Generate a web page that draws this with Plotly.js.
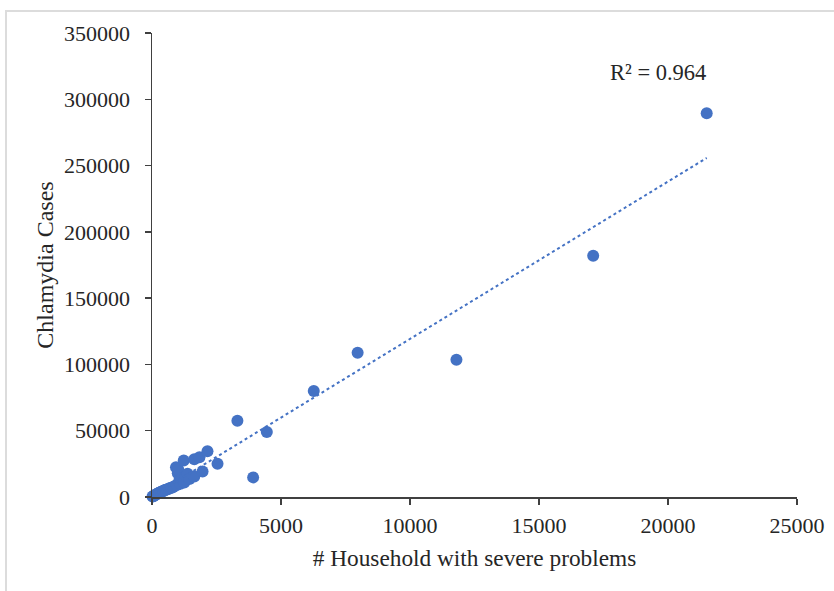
<!DOCTYPE html>
<html>
<head>
<meta charset="utf-8">
<script src="https://cdn.plot.ly/plotly-3.0.1.min.js"></script>
<style>
  html, body { margin: 0; padding: 0; background: #fff; }
  #frame { position: absolute; left: 5px; top: 10px; width: 840px; height: 600px;
           border-left: 2px solid #dcdcdc; border-top: 2px solid #dcdcdc; box-sizing: border-box; }
  #chart { position: absolute; left: 0; top: 0; width: 834px; height: 591px; }
</style>
</head>
<body>
<div id="frame"></div>
<div id="chart"></div>
<script>
// Households with severe housing problems (x) vs. chlamydia cases (y)
const households = [20, 50, 80, 110, 150, 190, 230, 260, 300, 340, 380, 420, 460, 500, 540,
  600, 650, 700, 760, 820, 870, 930, 960, 1000, 1020, 1060, 1100, 1150, 1230, 1250, 1300,
  1380, 1450, 1640, 1640, 1840, 1960, 2150, 2540, 3310, 3920, 4450, 6270, 7970, 11800, 17100, 21500];
const chlamydia = [300, 600, 900, 1400, 1800, 2200, 2600, 3000, 3400, 3700, 4100, 4400, 4800, 5200, 5500,
  5900, 6300, 6700, 7000, 7500, 8200, 22500, 9000, 18000, 20500, 12500, 10000, 14000, 27500, 11000, 15500,
  17500, 13500, 15500, 28500, 30000, 19300, 34500, 25000, 57500, 14800, 49000, 80000, 108800, 103500, 182000, 289500];

// Linear trendline
const trendSlope = 11.87;
const trendIntercept = 555;
const rSquaredLabel = "R² = 0.964";

const xTicks = [0, 5000, 10000, 15000, 20000, 25000];
const yTicks = [0, 50000, 100000, 150000, 200000, 250000, 300000, 350000];

const xMin = Math.min(...households), xMax = Math.max(...households);
const trendX = [xMin, xMax];
const trendY = trendX.map(v => trendSlope * v + trendIntercept);

const blue = '#4472C4';
const font = { family: '"Liberation Serif", "Times New Roman", serif', color: '#262626' };
const f = s => Object.assign({ size: s }, font);

const data = [
  { x: households, y: chlamydia, type: 'scatter', mode: 'markers',
    marker: { color: blue, size: 12 }, cliponaxis: false, showlegend: false },
  { x: trendX, y: trendY, type: 'scatter', mode: 'lines',
    line: { color: blue, width: 2, dash: 'dot' }, showlegend: false }
];

const layout = {
  width: 834, height: 591,
  margin: { l: 152, r: 37, t: 33, b: 94 },
  paper_bgcolor: 'rgba(0,0,0,0)', plot_bgcolor: 'rgba(0,0,0,0)',
  font: f(22),
  showlegend: false,
  xaxis: {
    range: [0, 25000], tickvals: xTicks, ticktext: xTicks.map(String),
    showgrid: false, zeroline: false, showline: true, linecolor: '#404040', linewidth: 1.5,
    ticks: 'outside', ticklen: 6, tickwidth: 1.5, tickcolor: '#404040',
    tickfont: f(22), ticklabelstandoff: 2,
    title: { text: '# Household with severe problems', font: f(23.3), standoff: 13 }
  },
  yaxis: {
    range: [0, 350000], tickvals: yTicks, ticktext: yTicks.map(String),
    showgrid: false, zeroline: false, showline: true, linecolor: '#404040', linewidth: 1.5,
    ticks: 'outside', ticklen: 6, tickwidth: 1.5, tickcolor: '#404040',
    tickfont: f(22), ticklabelstandoff: 10,
    title: { text: 'Chlamydia Cases', font: f(24), standoff: 3 }
  },
  annotations: [{
    x: 19600, y: 320000, xref: 'x', yref: 'y', text: rSquaredLabel, showarrow: false,
    font: f(22.5)
  }]
};

Plotly.newPlot('chart', data, layout, { displayModeBar: false, staticPlot: true });
</script>
</body>
</html>
